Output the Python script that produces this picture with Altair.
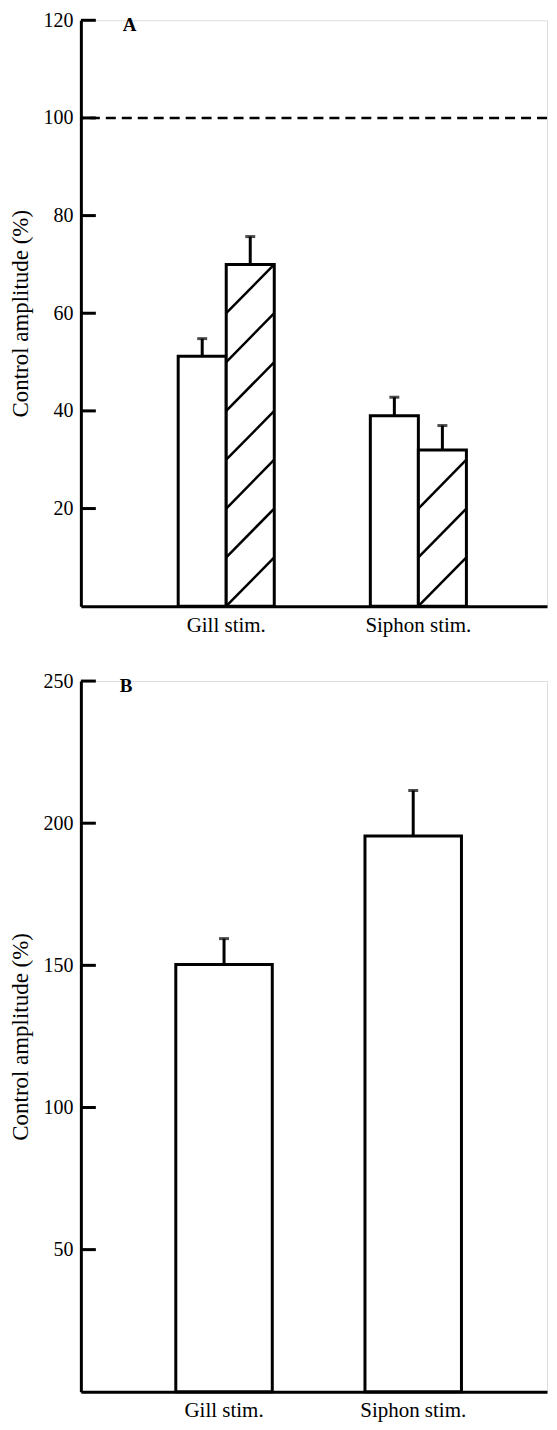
import altair as alt
import pandas as pd

# ---------------- data ----------------
groups = ["Gill stim.", "Siphon stim."]
conditions = ["open", "hatched"]

a_open = [51.2, 39.0]
a_open_sem = [3.6, 3.8]
a_hatched = [70.0, 32.0]
a_hatched_sem = [5.7, 5.0]
a_reference = [100]
a_ticks = [20, 40, 60, 80, 100, 120]
a_domain = [0, 120]

b_values = [150.3, 195.5]
b_sem = [9.1, 16.0]
b_ticks = [50, 100, 150, 200, 250]
b_domain = [0, 250]

hatch_step = 10
y_title = "Control amplitude (%)"

FONT = "Liberation Serif"

# ---------------- tables ----------------
rows = []
for g, v, s in zip(groups, a_open, a_open_sem):
    rows.append({"group": g, "cond": "open", "value": v, "top": v + s})
for g, v, s in zip(groups, a_hatched, a_hatched_sem):
    rows.append({"group": g, "cond": "hatched", "value": v, "top": v + s})
a_df = pd.DataFrame(rows)

hatch_rows = []
for g, v in zip(groups, a_hatched):
    k = 0
    while (k + 1) * hatch_step <= v + 0.5:
        hatch_rows.append({"group": g, "y0": k * hatch_step, "y1": (k + 1) * hatch_step})
        k += 1
hatch_df = pd.DataFrame(hatch_rows)

b_df = pd.DataFrame({"group": groups, "value": b_values,
                     "top": [v + s for v, s in zip(b_values, b_sem)]})


def y_axis(values):
    return alt.Axis(values=values, title=y_title, grid=False, ticks=False, tickSize=0,
                    domainWidth=3, domainColor="black", labelPadding=8,
                    labelFont=FONT, labelFontSize=20, labelColor="black",
                    titleFont=FONT, titleFontSize=23, titleFontWeight="normal",
                    titleColor="black", titlePadding=10)


x_axis = alt.Axis(title=None, labelAngle=0, ticks=False, tickSize=0, grid=False,
                  domainWidth=3, domainColor="black", labelPadding=8,
                  labelFont=FONT, labelFontSize=21, labelColor="black")


def panel(ticks, domain, xscale, extra_layers, letter, letter_x, width, height):
    def X(**kw):
        return alt.X("group:N", sort=groups, scale=xscale, axis=x_axis, **kw)

    def Y(field):
        return alt.Y(field, scale=alt.Scale(domain=domain, nice=False, zero=True),
                     axis=y_axis(ticks))
    layers = extra_layers(X, Y)
    tick_df = pd.DataFrame({"t": ticks})
    tick_layer = alt.Chart(tick_df).mark_rule(color="black", strokeWidth=3).encode(
        y=Y("t:Q"), x=alt.value(0), x2=alt.value(15))
    letter_layer = alt.Chart(pd.DataFrame({"label": [letter]})).mark_text(
        align="left", baseline="middle", font=FONT, fontSize=19, fontWeight="bold",
        color="black").encode(x=alt.value(letter_x), y=alt.value(5), text="label:N")
    return alt.layer(*layers, tick_layer, letter_layer).properties(width=width, height=height)


def layers_a(X, Y):
    off = alt.XOffset("cond:N", sort=conditions,
                      scale=alt.Scale(paddingInner=0, paddingOuter=0))
    bars = alt.Chart(a_df).mark_bar(fill="white", stroke="black", strokeWidth=3).encode(
        x=X(), xOffset=off, y=Y("value:Q"))
    hatch = alt.Chart(hatch_df).mark_rule(color="black", strokeWidth=2.5).encode(
        x=X(bandPosition=0.5), x2=alt.X2("group", bandPosition=1),
        y=Y("y0:Q"), y2="y1:Q")
    stems = alt.Chart(a_df).mark_rule(color="black", strokeWidth=3).encode(
        x=X(), xOffset=off, y=Y("value:Q"), y2="top:Q")
    caps = alt.Chart(a_df).mark_tick(color="black", thickness=3, size=10).encode(
        x=X(), xOffset=off, y=Y("top:Q"))
    ref = alt.Chart(pd.DataFrame({"ref": a_reference})).mark_rule(
        color="black", strokeWidth=2.5, strokeDash=[10, 6]).encode(y=Y("ref:Q"))
    return [ref, bars, hatch, stems, caps]


def layers_b(X, Y):
    bars = alt.Chart(b_df).mark_bar(fill="white", stroke="black", strokeWidth=3).encode(
        x=X(), y=Y("value:Q"))
    stems = alt.Chart(b_df).mark_rule(color="black", strokeWidth=3).encode(
        x=X(), y=Y("value:Q"), y2="top:Q")
    caps = alt.Chart(b_df).mark_tick(color="black", thickness=3, size=10).encode(
        x=X(), y=Y("top:Q"))
    return [bars, stems, caps]


xscale_a = alt.Scale(paddingInner=0.5, paddingOuter=0.463, align=0.547)
xscale_b = alt.Scale(paddingInner=0.49, paddingOuter=0.477, align=0.526)

panel_a = panel(a_ticks, a_domain, xscale_a, layers_a, "A", 42, 467, 587)
panel_b = panel(b_ticks, b_domain, xscale_b, layers_b, "B", 39, 467, 712)

chart = alt.vconcat(panel_a, panel_b, spacing=75, bounds="flush").properties(
    padding={"left": 1, "top": 0, "right": 0, "bottom": 0}
).resolve_scale(x="independent", y="independent").configure_view(stroke=None).configure(
    background="white")

chart.save("out.html", embed_options={"renderer": "svg", "actions": False})
